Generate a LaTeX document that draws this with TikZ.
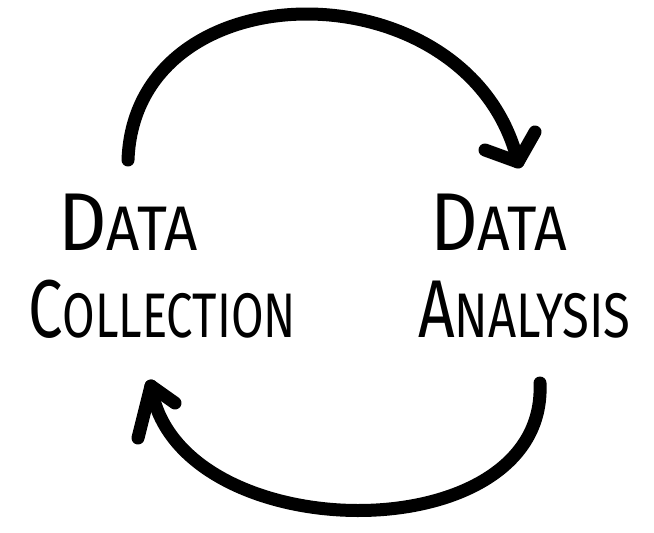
\documentclass[tikz,border=0pt]{standalone}
\usepackage{fontspec}
\setmainfont{Fira Sans}
\newcommand\hcap[2]{{\fontsize{82}{82}\selectfont #1}{\fontsize{63}{63}\selectfont #2}}
\begin{document}
\begin{tikzpicture}[x=1pt,y=-1pt,
  stroke/.style={line width=13pt, line cap=round, line join=round, black},
  lbl/.style={inner sep=0pt, anchor=base west, xscale=0.78}]
\useasboundingbox (0,0) rectangle (654,533);
\fill[white] (0,0) rectangle (654,533);
\node[lbl, xscale=1.18] (d1) at (58,250) {\hcap{D}{ATA}};
\node[lbl, xscale=0.96] (c1) at (28,337) {\hcap{C}{OLLECTION}};
\node[lbl, xscale=1.16] (d2) at (430,250) {\hcap{D}{ATA}};
\node[lbl] (a2) at (418,337) {\hcap{A}{NALYSIS}};
\coordinate (s1) at (128,160);
\coordinate (t1) at (518,162);
\coordinate (s2) at (540,383);
\coordinate (t2) at (151,386);
\draw[stroke] (s1) .. controls (135,-35) and (470,-35) .. (t1);
\draw[stroke] (485,150) -- (t1) -- (535,132);
\draw[stroke] (s2) .. controls (548,555) and (175,550) .. (t2);
\draw[stroke] (138,438) -- (t2) -- (175,403);
\end{tikzpicture}
\end{document}
